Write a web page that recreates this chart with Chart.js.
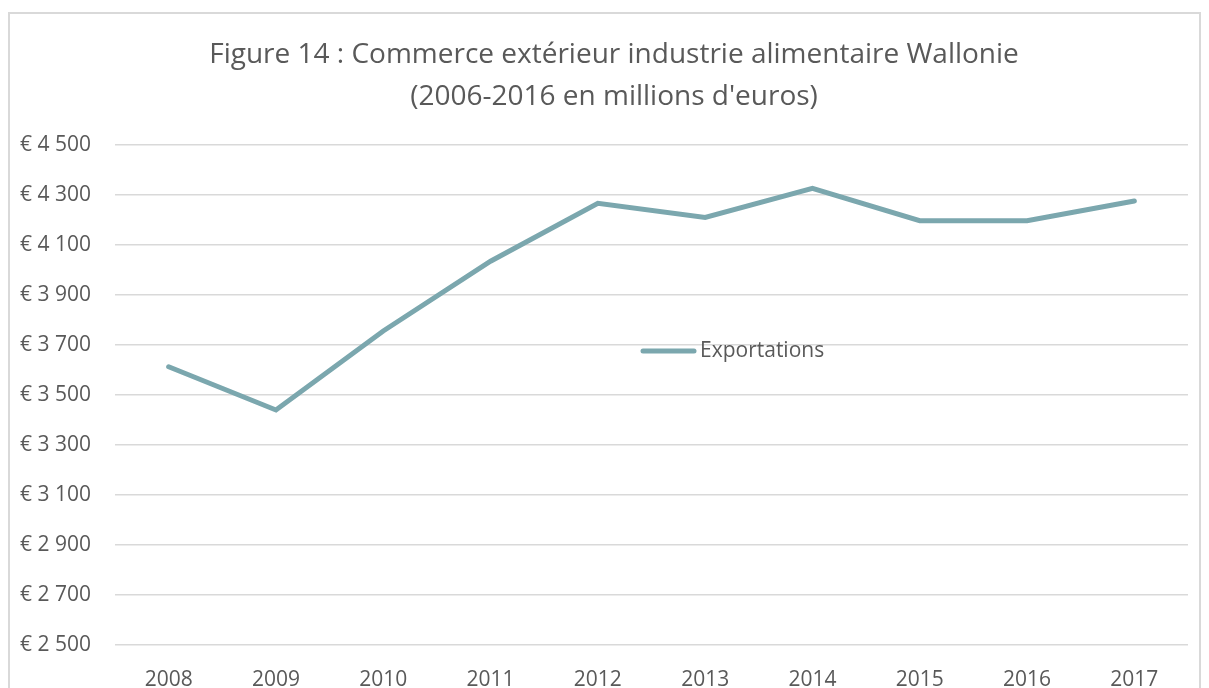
<!DOCTYPE html>
<html lang="fr">
<head>
    <meta charset="UTF-8">
    <title>Commerce extérieur industrie alimentaire Wallonie</title>
    <script src="https://cdn.jsdelivr.net/npm/chart.js"></script>
    <style>
        body {
            margin: 0;
            background-color: #ffffff;
            overflow: hidden;
        }
        .frame {
            position: absolute;
            left: 8px;
            top: 12px;
            width: 1189px;
            height: 720px;
            border: 2px solid #d9d9d9;
        }
        #chart {
            position: absolute;
            left: 0;
            top: 0;
        }
    </style>
</head>
<body>
    <div class="frame"></div>
    <canvas id="chart" width="1209" height="688"></canvas>

    <script>
        // Data
        const years = ['2008', '2009', '2010', '2011', '2012', '2013', '2014', '2015', '2016', '2017'];
        const exportations = [3613, 3440, 3756, 4035, 4267, 4210, 4327, 4197, 4197, 4276];
        const titleLines = ['Figure 14 : Commerce extérieur industrie alimentaire Wallonie', "(2006-2016 en millions d'euros)"];
        const yMin = 2500;
        const yMax = 4500;
        const yStep = 200;

        const lineColor = '#7ba7ae';
        const textColor = '#595959';
        const fontFamily = "'Open Sans', 'Liberation Sans', sans-serif";

        function euro(v) {
            const th = Math.floor(v / 1000);
            const rest = String(v % 1000).padStart(3, '0');
            return '€ ' + th + ' ' + rest;
        }

        // Title drawn at the top, two centered lines
        const titlePlugin = {
            id: 'twoLineTitle',
            afterDraw(chart) {
                const ctx = chart.ctx;
                ctx.save();
                ctx.fillStyle = textColor;
                ctx.font = '28px ' + fontFamily;
                ctx.textAlign = 'center';
                ctx.textBaseline = 'middle';
                ctx.fillText(titleLines[0], 614, 55);
                ctx.fillText(titleLines[1], 614, 97);
                ctx.restore();
            }
        };

        // Legend sits inside the plot, like the original
        const legendPlugin = {
            id: 'innerLegend',
            afterDraw(chart) {
                const ctx = chart.ctx;
                const ds = chart.data.datasets[0];
                ctx.save();
                ctx.strokeStyle = ds.borderColor;
                ctx.lineWidth = 5;
                ctx.lineCap = 'round';
                ctx.beginPath();
                ctx.moveTo(643, 351);
                ctx.lineTo(694, 351);
                ctx.stroke();
                ctx.fillStyle = textColor;
                ctx.font = '21px ' + fontFamily;
                ctx.textAlign = 'left';
                ctx.textBaseline = 'middle';
                ctx.fillText(ds.label, 700, 351);
                ctx.restore();
            }
        };

        new Chart(document.getElementById('chart'), {
            type: 'line',
            data: {
                labels: years,
                datasets: [{
                    label: 'Exportations',
                    data: exportations,
                    borderColor: lineColor,
                    backgroundColor: lineColor,
                    borderWidth: 5,
                    borderCapStyle: 'round',
                    borderJoinStyle: 'miter',
                    pointRadius: 0,
                    tension: 0
                }]
            },
            options: {
                responsive: false,
                animation: false,
                layout: {
                    padding: { left: 0, right: 21, top: 145, bottom: 0 }
                },
                plugins: {
                    legend: { display: false },
                    title: { display: false },
                    tooltip: { enabled: false }
                },
                scales: {
                    x: {
                        offset: true,
                        grid: { display: false },
                        border: { display: false },
                        ticks: {
                            color: textColor,
                            font: { family: fontFamily, size: 21 },
                            padding: 14,
                            maxRotation: 0
                        },
                        afterFit(scale) { scale.height = 43; }
                    },
                    y: {
                        min: yMin,
                        max: yMax,
                        grid: {
                            color: '#d9d9d9',
                            lineWidth: 1.5,
                            drawTicks: false
                        },
                        border: { display: false },
                        ticks: {
                            stepSize: yStep,
                            color: textColor,
                            font: { family: fontFamily, size: 21 },
                            padding: 24,
                            callback: (v) => euro(v)
                        },
                        afterFit(scale) { scale.width = 115; }
                    }
                }
            },
            plugins: [titlePlugin, legendPlugin]
        });
    </script>
</body>
</html>
